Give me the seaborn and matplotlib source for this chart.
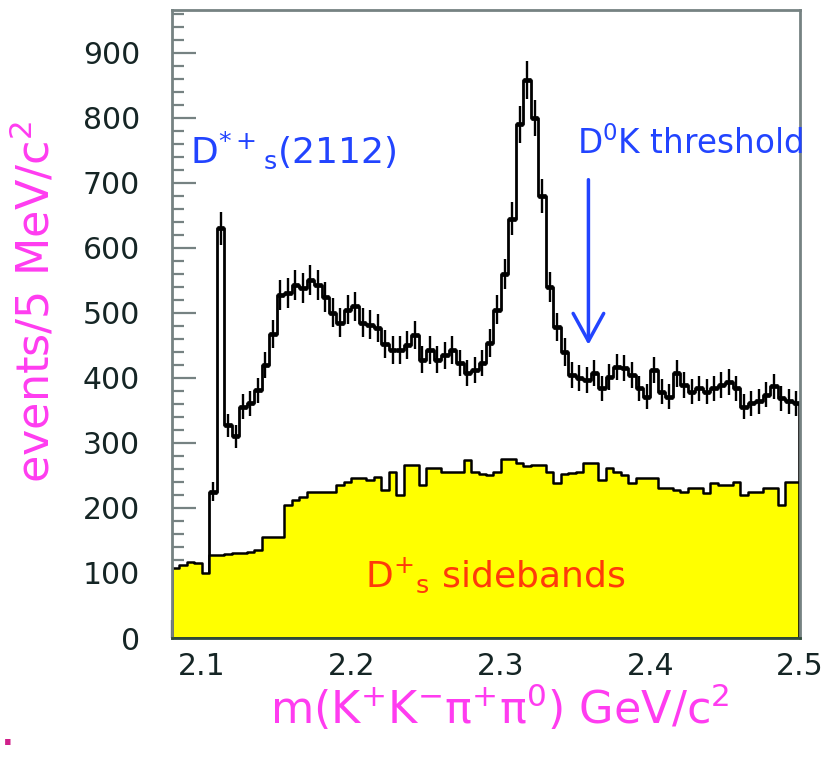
import numpy as np
import pandas as pd
import matplotlib
matplotlib.use("Agg")
import matplotlib.pyplot as plt
from matplotlib.ticker import MultipleLocator
import seaborn as sns

# Binning of the invariant-mass histograms (GeV/c^2)
mass_lo = 2.08
mass_hi = 2.50
bin_width = 0.005

# Candidates per 5 MeV bin, D_s+ signal region
signal_counts = [
    0, 0, 0, 0, 0, 225, 630, 327, 310, 356,
    361, 381, 420, 468, 528, 530, 543, 538, 551, 543,
    525, 500, 485, 505, 510, 485, 482, 477, 452, 443,
    443, 451, 466, 428, 443, 428, 435, 443, 423, 408,
    412, 423, 454, 505, 560, 645, 790, 858, 800, 680,
    540, 478, 440, 405, 400, 397, 408, 384, 402, 417,
    415, 405, 384, 371, 412, 379, 371, 407, 389, 379,
    384, 379, 384, 389, 394, 384, 356, 361, 364, 374,
    387, 369, 364, 361,
]

# Candidates per 5 MeV bin, D_s+ mass sidebands
sideband_counts = [
    107, 112, 117, 115, 100, 128, 128, 129, 130, 131,
    133, 135, 156, 156, 156, 205, 212, 217, 225, 225,
    225, 225, 235, 240, 246, 246, 243, 248, 228, 256,
    220, 266, 266, 235, 261, 261, 256, 256, 256, 274,
    256, 252, 250, 255, 276, 276, 269, 264, 266, 266,
    256, 238, 253, 254, 256, 269, 269, 243, 261, 255,
    250, 238, 246, 246, 246, 230, 230, 228, 225, 230,
    230, 223, 238, 235, 235, 240, 220, 225, 225, 230,
    230, 205, 240, 240,
]

x_ticks = [2.1, 2.2, 2.3, 2.4, 2.5]
x_tick_labels = ["2.1", "2.2", "2.3", "2.4", "2.5"]
y_ticks = [0, 100, 200, 300, 400, 500, 600, 700, 800, 900]

# D0 K+ threshold (GeV/c^2) and the arrow span in events
threshold_mass = 2.3585
arrow_top, arrow_tip = 705, 451

MAGENTA = "#ff3cf0"
BLUE = "#2244ff"
RED = "#ff3a0a"
YELLOW = "#ffff00"
FRAME = "#768282"
LABEL_INK = "#152525"

n_bins = len(signal_counts)
edges = [round(mass_lo + bin_width * i, 4) for i in range(n_bins + 1)]
edges_arr = np.asarray(edges)
centers = 0.5 * (edges_arr[:-1] + edges_arr[1:])
hist = pd.DataFrame({
    "mass": centers,
    "signal": np.asarray(signal_counts, dtype=float),
    "sideband": np.asarray(sideband_counts, dtype=float),
})

sns.set_theme(style="white")
plt.rcParams["font.family"] = ["DejaVu Sans"]
plt.rcParams["mathtext.fontset"] = "dejavusans"

fig = plt.figure(figsize=(8.25, 7.57), dpi=100)
fig.patch.set_facecolor("white")
ax = fig.add_axes([172 / 825, 119 / 757, 628 / 825, 628 / 757])
ax.set_facecolor("white")

# signal-region histogram with Poisson error bars
sns.histplot(data=hist, x="mass", weights="signal", bins=edges, element="step",
             fill=False, color="black", linewidth=2.0, ax=ax, zorder=2)
filled = (hist["signal"] > 0).to_numpy()
sig = hist.loc[filled]
ax.errorbar(sig["mass"], sig["signal"], yerr=np.sqrt(sig["signal"]),
            fmt="none", ecolor="black", elinewidth=1.7, capsize=0, zorder=2)
ax.hlines(sig["signal"], edges_arr[:-1][filled], edges_arr[1:][filled],
          colors="black", linewidth=3.4, zorder=2)
# closing edge of the signal histogram at the upper mass limit
ax.vlines(edges_arr[-1], 0, hist["signal"].iloc[-1], colors="black",
          linewidth=2.6, zorder=4)

# sideband histogram, filled
sns.histplot(data=hist, x="mass", weights="sideband", bins=edges, element="step",
             fill=True, color=YELLOW, alpha=1.0, edgecolor="black", linewidth=1.8,
             ax=ax, zorder=3)

ax.set_xlim(mass_lo, mass_hi)
ax.set_ylim(0, 966)
ax.set_xticks(x_ticks)
ax.set_xticklabels(x_tick_labels)
ax.set_yticks(y_ticks)
ax.xaxis.set_minor_locator(MultipleLocator(0.02))
ax.yaxis.set_minor_locator(MultipleLocator(20))

ax.tick_params(axis="both", which="both", bottom=True, left=True,
               top=False, right=False)
ax.tick_params(axis="y", which="major", direction="in", length=17, width=1.6,
               color=FRAME, pad=23, labelsize=21.5, labelcolor=LABEL_INK)
ax.tick_params(axis="y", which="minor", direction="in", length=8.5, width=1.6,
               color=FRAME)
ax.tick_params(axis="x", which="major", direction="in", length=14, width=1.6,
               color="#1e2a22", pad=10, labelsize=21.5, labelcolor=LABEL_INK)
ax.tick_params(axis="x", which="minor", direction="in", length=13, width=1.6,
               color="#1e2a22")
for side in ["top", "right", "left", "bottom"]:
    ax.spines[side].set_visible(True)
    ax.spines[side].set_color(FRAME)
    ax.spines[side].set_linewidth(2)
    ax.spines[side].set_zorder(5)
ax.spines["bottom"].set_color("#2f4a3a")

ax.set_xlabel("m(K$^{+}$K$^{-}$π$^{+}$π$^{0}$) GeV/c$^{2}$", fontsize=32,
              color=MAGENTA, va="center")
ax.xaxis.set_label_coords(0.522, -0.111)
ax.set_ylabel("events/5 MeV/c$^{2}$", fontsize=32, color=MAGENTA, va="center")
ax.yaxis.set_label_coords(-0.218, 0.535)

ax.text(2.0922, 750, r"$\mathregular{D^{*+}}$$\mathregular{_{s}}$(2112)",
        fontsize=26, color=BLUE, ha="left", va="center", zorder=6)
ax.text(2.351, 761, r"$\mathregular{D^{0}}$K threshold", fontsize=23.5,
        color=BLUE, ha="left", va="center", zorder=6)
ax.text(2.2093, 97, r"$\mathregular{D^{+}}$$\mathregular{_{s}}$ sidebands",
        fontsize=26, color=RED, ha="left", va="center", zorder=6)

ax.annotate("", xy=(threshold_mass, arrow_tip), xytext=(threshold_mass, arrow_top),
            arrowprops=dict(arrowstyle="->,head_length=1.0,head_width=0.55",
                            mutation_scale=20, color=BLUE, lw=2.5,
                            shrinkA=0, shrinkB=0),
            zorder=6)

fig.text(8 / 825, 1 - 745 / 757, ".", fontsize=22, color="#d0208a",
         ha="center", va="baseline", fontweight="bold")

fig.savefig("out.png", dpi=100, facecolor="white")
